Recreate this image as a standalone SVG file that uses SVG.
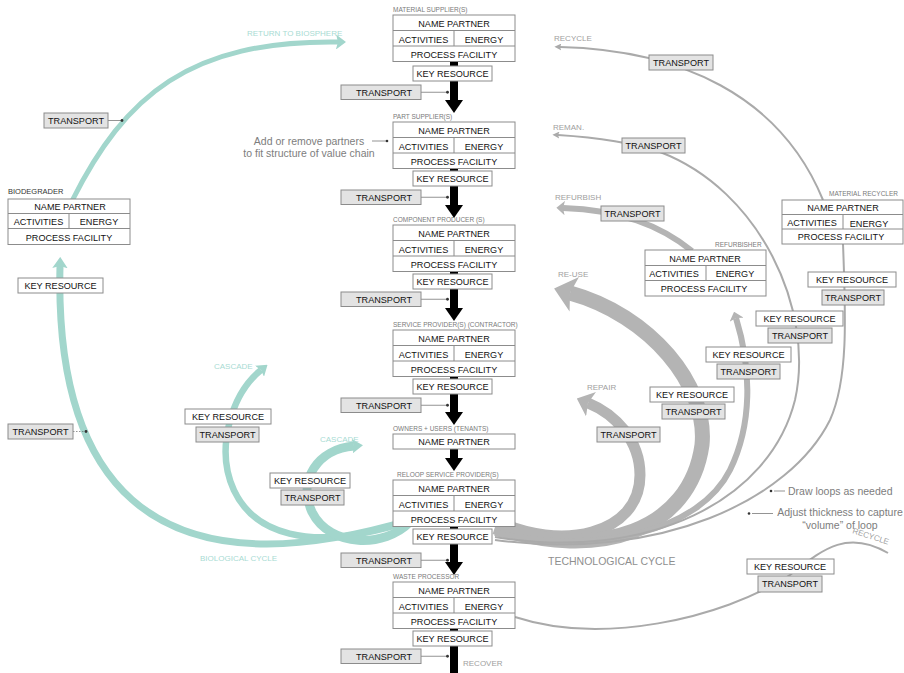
<svg xmlns="http://www.w3.org/2000/svg" width="904" height="673" viewBox="0 0 904 673">
<style>
text{font-family:"Liberation Sans",Arial,Helvetica,sans-serif}
.bx{fill:#fff;stroke:#8c8c8c;stroke-width:1}
.tb{fill:#e3e3e3;stroke:#8c8c8c;stroke-width:1}
.dv{stroke:#8c8c8c;stroke-width:1;fill:none}
.t{font-size:9.1px;fill:#111;text-anchor:middle}
.lb{font-size:6.5px;fill:#7a7a7a}
.nt{font-size:10.5px;fill:#7d7d7d}
.tl{font-size:8px;fill:#a8dbd3}
.gl{font-size:8px;fill:#a0a0a0}
.teal{fill:none;stroke:#a2d6cc}
.gray{fill:none;stroke:#b4b4b4}
.thin{fill:none;stroke:#aaaaaa;stroke-width:2}
.blk{fill:#000}
.cn{stroke:#666;stroke-width:0.7;fill:none}
.dot{fill:#333}
</style>
<defs>
<marker id="ahG" viewBox="0 0 14 24" refX="3" refY="12" markerWidth="1.4" markerHeight="2.4" orient="auto" markerUnits="strokeWidth"><path d="M0,0 L14,12 L0,24 L3,12 z" fill="#b4b4b4"/></marker>
<marker id="ahS" viewBox="0 0 10 10" refX="2" refY="5" markerWidth="3.5" markerHeight="3.5" orient="auto" markerUnits="strokeWidth"><path d="M0,0 L10,5 L0,10 L2,5 z" fill="#aaaaaa"/></marker>
<marker id="ahT" viewBox="0 0 16 22" refX="3" refY="11" markerWidth="1.6" markerHeight="2.2" orient="auto" markerUnits="strokeWidth"><path d="M0,0 L16,11 L0,22 L3,11 z" fill="#a2d6cc"/></marker>
<marker id="ahT2" viewBox="0 0 12 16" refX="2" refY="8" markerWidth="1.2" markerHeight="1.6" orient="auto" markerUnits="strokeWidth"><path d="M0,0 L12,8 L0,16 L2,8 z" fill="#a2d6cc"/></marker>
<marker id="ahT3" viewBox="0 0 20 30" refX="4" refY="15" markerWidth="2" markerHeight="3" orient="auto" markerUnits="strokeWidth"><path d="M0,0 L20,15 L0,30 L4,15 z" fill="#a2d6cc"/></marker>
</defs>

<g id="connectors">
<!-- biological (teal) -->
<path class="teal" stroke-width="5" d="M72,201 C125,95 190,40 338,42" marker-end="url(#ahT3)"/>
<path class="teal" stroke-width="7" d="M410,520 C140,600 55,470 60,266" marker-end="url(#ahT)"/>
<path class="teal" stroke-width="6.5" d="M410,521 C200,590 200,420 261,370" marker-end="url(#ahT)"/>
<path class="teal" stroke-width="9" d="M410,522 C385,548 330,548 312,512 C297,480 318,449 354,446" marker-end="url(#ahT2)"/>
<!-- technological (gray) -->
<path class="gray" stroke-width="11" d="M495,520 C560,552 640,535 640,475 C640,440 615,414 588,403" marker-end="url(#ahG)"/>
<path class="gray" stroke-width="15" d="M495,527 C600,562 690,530 702,445 C708,385 650,315 570,293" marker-end="url(#ahG)"/>
<path class="gray" stroke-width="6" d="M495,533 C600,556 700,530 730,470 C752,425 752,370 736,318" marker-end="url(#ahG)"/>
<path class="thin" d="M495,537 C650,562 770,500 795,400 C815,310 760,190 660,152 C630,142 590,137 558,135" marker-end="url(#ahS)"/>
<path class="thin" d="M495,540 C660,562 790,500 830,420 C848,380 846,320 843,244"/>
<path class="thin" d="M823,200 C780,95 680,50 560,47" marker-end="url(#ahS)"/>
<path class="gray" stroke-width="6" d="M692,251 C660,225 620,210 563,208" marker-end="url(#ahG)"/>
<path class="thin" stroke-width="1.6" d="M515,617 C600,645 720,620 790,575 C820,552 845,528 888,553"/>
<!-- value chain arrows -->
<rect class="blk" x="450" y="61.5" width="8" height="39.5"/><polygon class="blk" points="445,100 463,100 454,113"/>
<rect class="blk" x="450" y="168.5" width="8" height="37.5"/><polygon class="blk" points="445,205 463,205 454,218"/>
<rect class="blk" x="450" y="271.5" width="8" height="37.5"/><polygon class="blk" points="445,308 463,308 454,321"/>
<rect class="blk" x="450" y="376.5" width="8" height="36.5"/><polygon class="blk" points="445,412 463,412 454,425"/>
<rect class="blk" x="450" y="449" width="8" height="10"/><polygon class="blk" points="445,458 463,458 454,471"/>
<rect class="blk" x="450" y="526.5" width="8" height="36.5"/><polygon class="blk" points="445,562 463,562 454,575"/>
<rect class="blk" x="450" y="628.5" width="8" height="45"/>
<!-- transport ties -->
<path class="cn" d="M421,92.25H447M421,197.25H447M421,299.25H447M421,405.25H447M421,560.25H447M421,656.25H447"/>
<circle class="dot" cx="447.5" cy="92.25" r="1.4"/><circle class="dot" cx="447.5" cy="197.25" r="1.4"/><circle class="dot" cx="447.5" cy="299.25" r="1.4"/><circle class="dot" cx="447.5" cy="405.25" r="1.4"/><circle class="dot" cx="447.5" cy="560.25" r="1.4"/><circle class="dot" cx="447.5" cy="656.25" r="1.4"/>
<path class="cn" d="M108,120.5H122"/><circle class="dot" cx="122" cy="120.5" r="1.4"/>
<path class="cn" stroke-dasharray="1.5 1.5" d="M73,431.5H86"/><circle class="dot" cx="86" cy="431.5" r="1.4"/>
<path class="cn" stroke="#999" d="M372,141H386"/><circle class="dot" fill="#999" cx="387" cy="141" r="1.3"/>
<path class="cn" stroke="#999" d="M774,491H785"/><circle class="dot" fill="#999" cx="771" cy="491" r="1.3"/>
<path class="cn" stroke="#999" d="M752,513.5H773"/><circle class="dot" fill="#999" cx="749" cy="513.5" r="1.3"/>
</g>

<!-- labels -->
<g id="flow-labels">
<text class="tl" x="247" y="36">RETURN TO BIOSPHERE</text>
<text class="tl" x="214" y="369">CASCADE</text>
<text class="tl" x="320" y="442">CASCADE</text>
<text class="tl" x="200" y="561">BIOLOGICAL CYCLE</text>
<text class="gl" x="554" y="41">RECYCLE</text>
<text class="gl" x="553" y="130">REMAN.</text>
<text class="gl" x="555" y="200">REFURBISH</text>
<text class="gl" x="558" y="277">RE-USE</text>
<text class="gl" x="587" y="390">REPAIR</text>
<text class="gl" x="463" y="666">RECOVER</text>
<text class="gl" font-size="7.5" transform="translate(852,533) rotate(18)">RECYCLE</text>
<text x="548" y="565" font-size="10.5" fill="#8f8f8f">TECHNOLOGICAL CYCLE</text>
</g>

<g id="notes">
<text class="nt" x="309" y="145" text-anchor="middle">Add or remove partners</text>
<text class="nt" x="309" y="157" text-anchor="middle">to fit structure of value chain</text>
<text class="nt" x="788" y="495">Draw loops as needed</text>
<text class="nt" x="840" y="516" text-anchor="middle">Adjust thickness to capture</text>
<text class="nt" x="840" y="529" text-anchor="middle">&#8220;volume&#8221; of loop</text>
</g>

<!-- value chain nodes -->
<g id="material-supplier">
<text class="lb" x="393" y="12">MATERIAL SUPPLIER(S)</text>
<rect class="bx" x="393" y="15" width="122" height="46.5"/>
<path class="dv" d="M393,30.5H515M393,46H515M454,30.5V46"/>
<text class="t" x="454" y="27">NAME PARTNER</text><text class="t" x="423.5" y="42.5">ACTIVITIES</text><text class="t" x="484" y="42.5">ENERGY</text><text class="t" x="454" y="58">PROCESS FACILITY</text>
<rect class="bx" x="413" y="66" width="79" height="15"/><text class="t" x="452.5" y="76.8">KEY RESOURCE</text>
<rect class="tb" x="341" y="85" width="80" height="14.5"/><text class="t" x="384" y="95.5">TRANSPORT</text>
</g>
<g id="part-supplier">
<text class="lb" x="393" y="119">PART SUPPLIER(S)</text>
<rect class="bx" x="393" y="122" width="122" height="46.5"/>
<path class="dv" d="M393,137.5H515M393,153H515M454,137.5V153"/>
<text class="t" x="454" y="134">NAME PARTNER</text><text class="t" x="423.5" y="149.5">ACTIVITIES</text><text class="t" x="484" y="149.5">ENERGY</text><text class="t" x="454" y="165">PROCESS FACILITY</text>
<rect class="bx" x="413" y="171" width="79" height="15"/><text class="t" x="452.5" y="181.8">KEY RESOURCE</text>
<rect class="tb" x="341" y="190" width="80" height="14.5"/><text class="t" x="384" y="200.5">TRANSPORT</text>
</g>
<g id="component-producer">
<text class="lb" x="393" y="222">COMPONENT PRODUCER (S)</text>
<rect class="bx" x="393" y="225" width="122" height="46.5"/>
<path class="dv" d="M393,240.5H515M393,256H515M454,240.5V256"/>
<text class="t" x="454" y="237">NAME PARTNER</text><text class="t" x="423.5" y="252.5">ACTIVITIES</text><text class="t" x="484" y="252.5">ENERGY</text><text class="t" x="454" y="268">PROCESS FACILITY</text>
<rect class="bx" x="413" y="274" width="79" height="15"/><text class="t" x="452.5" y="284.8">KEY RESOURCE</text>
<rect class="tb" x="341" y="292" width="80" height="14.5"/><text class="t" x="384" y="302.5">TRANSPORT</text>
</g>
<g id="service-provider">
<text class="lb" x="393" y="327">SERVICE PROVIDER(S) (CONTRACTOR)</text>
<rect class="bx" x="393" y="330" width="122" height="46.5"/>
<path class="dv" d="M393,345.5H515M393,361H515M454,345.5V361"/>
<text class="t" x="454" y="342">NAME PARTNER</text><text class="t" x="423.5" y="357.5">ACTIVITIES</text><text class="t" x="484" y="357.5">ENERGY</text><text class="t" x="454" y="373">PROCESS FACILITY</text>
<rect class="bx" x="413" y="379" width="79" height="15"/><text class="t" x="452.5" y="389.8">KEY RESOURCE</text>
<rect class="tb" x="341" y="398" width="80" height="14.5"/><text class="t" x="384" y="408.5">TRANSPORT</text>
</g>
<g id="owners-users">
<text class="lb" x="393" y="431">OWNERS + USERS (TENANTS)</text>
<rect class="bx" x="393" y="434" width="122" height="15"/>
<text class="t" x="454" y="445">NAME PARTNER</text>
</g>
<g id="reloop-service-provider">
<text class="lb" x="397" y="477">RELOOP SERVICE PROVIDER(S)</text>
<rect class="bx" x="393" y="480" width="122" height="46.5"/>
<path class="dv" d="M393,495.5H515M393,511H515M454,495.5V511"/>
<text class="t" x="454" y="492">NAME PARTNER</text><text class="t" x="423.5" y="507.5">ACTIVITIES</text><text class="t" x="484" y="507.5">ENERGY</text><text class="t" x="454" y="523">PROCESS FACILITY</text>
<rect class="bx" x="413" y="529" width="79" height="15"/><text class="t" x="452.5" y="539.8">KEY RESOURCE</text>
<rect class="tb" x="341" y="553" width="80" height="14.5"/><text class="t" x="384" y="563.5">TRANSPORT</text>
</g>
<g id="waste-processor">
<text class="lb" x="393" y="579" font-size="5.5">WASTE PROCESSOR</text>
<rect class="bx" x="393" y="582" width="122" height="46.5"/>
<path class="dv" d="M393,597.5H515M393,613H515M454,597.5V613"/>
<text class="t" x="454" y="594">NAME PARTNER</text><text class="t" x="423.5" y="609.5">ACTIVITIES</text><text class="t" x="484" y="609.5">ENERGY</text><text class="t" x="454" y="625">PROCESS FACILITY</text>
<rect class="bx" x="413" y="631" width="79" height="15"/><text class="t" x="452.5" y="641.8">KEY RESOURCE</text>
<rect class="tb" x="341" y="649" width="80" height="14.5"/><text class="t" x="384" y="659.5">TRANSPORT</text>
</g>

<!-- biological side -->
<g id="biodegrader">
<text x="8" y="194" font-size="7.5" fill="#333">BIODEGRADER</text>
<rect class="bx" x="8" y="199" width="122" height="45.5"/>
<path class="dv" d="M8,213.5H130M8,228.5H130M69,213.5V228.5"/>
<text class="t" x="70" y="210">NAME PARTNER</text><text class="t" x="38.5" y="225">ACTIVITIES</text><text class="t" x="99" y="225">ENERGY</text><text class="t" x="69" y="240.5">PROCESS FACILITY</text>
</g>
<g id="bio-transport-top"><rect class="tb" x="44" y="113" width="64" height="15"/><text class="t" x="76" y="123.8">TRANSPORT</text></g>
<g id="bio-key-resource"><rect class="bx" x="18" y="278" width="85" height="15"/><text class="t" x="60.5" y="288.8">KEY RESOURCE</text></g>
<g id="bio-transport-left"><rect class="tb" x="8" y="424" width="65" height="15"/><text class="t" x="40.5" y="434.8">TRANSPORT</text></g>
<g id="cascade-outer-pair"><rect class="bx" x="185" y="409" width="86" height="15"/><text class="t" x="228" y="419.8">KEY RESOURCE</text><rect class="tb" x="196" y="427" width="63" height="15"/><text class="t" x="227.5" y="437.8">TRANSPORT</text></g>
<g id="cascade-inner-pair"><rect class="bx" x="270" y="473" width="80" height="15"/><text class="t" x="310" y="483.8">KEY RESOURCE</text><rect class="tb" x="281" y="490" width="63" height="15"/><text class="t" x="312.5" y="500.8">TRANSPORT</text></g>

<!-- technological side -->
<g id="recycle-transport"><rect class="tb" x="649" y="55" width="64" height="15"/><text class="t" x="681" y="65.8">TRANSPORT</text></g>
<g id="reman-transport"><rect class="tb" x="622" y="138" width="63" height="15"/><text class="t" x="653.5" y="148.8">TRANSPORT</text></g>
<g id="refurbish-transport"><rect class="tb" x="601" y="206" width="63" height="15"/><text class="t" x="632.5" y="216.8">TRANSPORT</text></g>
<g id="material-recycler">
<text class="lb" x="898" y="196" text-anchor="end">MATERIAL RECYCLER</text>
<rect class="bx" x="782" y="200" width="121" height="44"/>
<path class="dv" d="M782,214.5H903M782,229H903M843,214.5V229"/>
<text class="t" x="843" y="211">NAME PARTNER</text><text class="t" x="812" y="225.5">ACTIVITIES</text><text class="t" x="869" y="226.5">ENERGY</text><text class="t" x="841" y="240">PROCESS FACILITY</text>
</g>
<g id="refurbisher">
<text class="lb" x="715" y="247">REFURBISHER</text>
<rect class="bx" x="645" y="250" width="121" height="46"/>
<path class="dv" d="M645,265.5H766M645,280.5H766M706,265.5V280.5"/>
<text class="t" x="705" y="262">NAME PARTNER</text><text class="t" x="674" y="277">ACTIVITIES</text><text class="t" x="735" y="277">ENERGY</text><text class="t" x="704" y="292">PROCESS FACILITY</text>
</g>
<g id="recycler-pair"><rect class="bx" x="808" y="272" width="88" height="15"/><text class="t" x="852" y="282.8">KEY RESOURCE</text><rect class="tb" x="822" y="290" width="62" height="15"/><text class="t" x="853" y="300.8">TRANSPORT</text></g>
<g id="reman-pair"><rect class="bx" x="756" y="311" width="87" height="15"/><text class="t" x="799.5" y="321.8">KEY RESOURCE</text><rect class="tb" x="768" y="328" width="64" height="15"/><text class="t" x="800" y="338.8">TRANSPORT</text></g>
<g id="refurbisher-pair"><rect class="bx" x="706" y="347" width="85" height="15"/><text class="t" x="748.5" y="357.8">KEY RESOURCE</text><rect class="tb" x="717" y="364" width="63" height="15"/><text class="t" x="748.5" y="374.8">TRANSPORT</text></g>
<g id="reuse-pair"><rect class="bx" x="650" y="387" width="84" height="15"/><text class="t" x="692" y="397.8">KEY RESOURCE</text><rect class="tb" x="662" y="404" width="63" height="15"/><text class="t" x="693.5" y="414.8">TRANSPORT</text></g>
<g id="repair-transport"><rect class="tb" x="597" y="427" width="63" height="15"/><text class="t" x="628.5" y="437.8">TRANSPORT</text></g>
<g id="waste-recycle-pair"><rect class="bx" x="747" y="559" width="87" height="15"/><text class="t" x="790" y="569.8">KEY RESOURCE</text><rect class="tb" x="758" y="576" width="64" height="16"/><text class="t" x="790" y="587.3">TRANSPORT</text></g>
</svg>
